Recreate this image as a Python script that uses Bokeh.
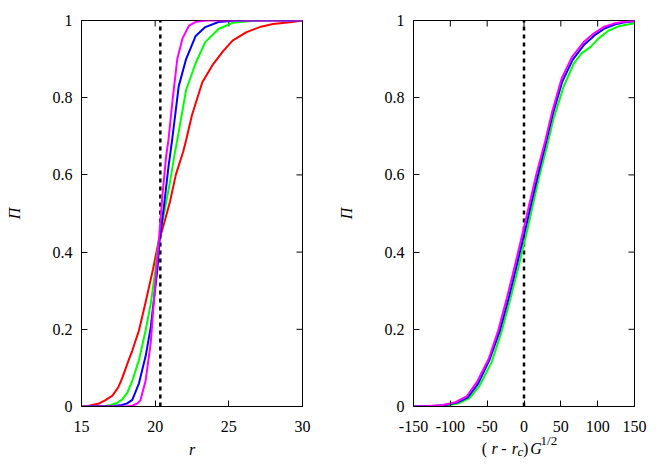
import math
from bokeh.plotting import figure
from bokeh.layouts import row, column
from bokeh.models import FixedTicker, Range1d, Label
from bokeh.embed import file_html
from bokeh.resources import INLINE

FONT = "Liberation Serif"

# ---------------- data: left panel (Pi vs r) ----------------
r_red = [15, 15.5, 16.2, 16.6, 17.1, 17.5, 17.75, 18.2, 18.45, 18.9, 19.35, 19.85, 20.25, 20.5,
         21.0, 21.4, 21.9, 22.1, 22.5, 23.2, 23.9, 24.6, 25.25, 26.2, 27.1, 28.0, 29.3, 30]
p_red = [0, 0.002, 0.008, 0.016, 0.028, 0.05, 0.072, 0.12, 0.145, 0.197, 0.27, 0.355, 0.43, 0.46,
         0.53, 0.60, 0.66, 0.69, 0.755, 0.84, 0.885, 0.92, 0.948, 0.97, 0.983, 0.991, 0.996, 1.0]

r_green = [15, 16.5, 17.0, 17.4, 17.75, 18.1, 18.45, 18.9, 19.35, 19.7, 20.0, 20.25, 20.6, 21.0,
           21.3, 21.5, 22.1, 22.75, 23.4, 24.3, 25.25, 26.5, 28, 30]
p_green = [0, 0.001, 0.004, 0.009, 0.018, 0.035, 0.067, 0.12, 0.197, 0.266, 0.35, 0.43, 0.5, 0.58,
           0.65, 0.69, 0.82, 0.89, 0.944, 0.978, 0.994, 0.999, 1, 1]

r_blue = [15, 17.2, 17.75, 18.1, 18.45, 18.9, 19.35, 19.7, 20.15, 20.3, 20.6, 20.9, 21.15, 21.6,
          22.1, 22.75, 23.4, 24.3, 25.5, 30]
p_blue = [0, 0.001, 0.004, 0.008, 0.017, 0.06, 0.13, 0.205, 0.355, 0.43, 0.52, 0.62, 0.69, 0.83,
          0.90, 0.96, 0.983, 0.996, 1, 1]

r_mag = [15, 18.0, 18.45, 18.8, 19.0, 19.35, 19.7, 19.9, 20.07, 20.25, 20.5, 20.75, 20.9, 21.2,
         21.5, 21.85, 22.3, 22.8, 23.5, 30]
p_mag = [0, 0.0, 0.002, 0.008, 0.016, 0.067, 0.165, 0.266, 0.35, 0.43, 0.55, 0.65, 0.69, 0.80,
         0.90, 0.953, 0.987, 0.997, 1.0, 1.0]

r_c = 20.35
x_ticks_left = [15, 20, 25, 30]

# ---------------- data: right panel (Pi vs scaled r) ----------------
s_green = [-150, -120, -100, -88, -74, -60, -44, -31, -19, -9, 3, 20, 31, 40, 54, 67.4, 78, 90,
           102, 115, 130, 150]
q_green = [0, 0.001, 0.004, 0.009, 0.022, 0.055, 0.115, 0.19, 0.275, 0.35, 0.445, 0.59, 0.672,
           0.745, 0.83, 0.888, 0.915, 0.931, 0.955, 0.974, 0.986, 0.993]

s_blue = [-150, -125, -108, -91, -76, -62, -47, -33, -21, -11, 1, 10, 19, 30, 39, 52, 66, 82, 96,
          110, 124, 135, 150]
q_blue = [0, 0.001, 0.003, 0.01, 0.024, 0.06, 0.12, 0.195, 0.28, 0.357, 0.452, 0.527, 0.6, 0.685,
          0.757, 0.842, 0.898, 0.938, 0.962, 0.98, 0.99, 0.995, 0.998]

s_mag = [-150, -130, -112, -93, -78, -64, -48, -35, -23, -13, -1, 8, 17, 29, 38, 51, 65, 81, 95,
         108, 122, 133, 150]
q_mag = [0, 0.001, 0.003, 0.011, 0.026, 0.063, 0.123, 0.197, 0.283, 0.36, 0.456, 0.53, 0.603,
         0.689, 0.762, 0.849, 0.905, 0.944, 0.967, 0.983, 0.992, 0.996, 0.999]

x_ticks_right = [-150, -100, -50, 0, 50, 100, 150]
x_tick_labels_right = ["-150", "-100", "-50", "0", "50", "100", "150"]
y_ticks = [0, 0.2, 0.4, 0.6, 0.8, 1.0]
y_tick_labels = ["0", "0.2", "0.4", "0.6", "0.8", "1"]

RED, GREEN, BLUE, MAG = "#ff0000", "#00ff00", "#0000ff", "#ff00ff"


def make_fig(xr, xticks, border_left, border_right, border_bottom):
    p = figure(frame_width=221, frame_height=386, x_range=Range1d(*xr), y_range=Range1d(0, 1),
               output_backend="svg", toolbar_location=None,
               min_border_left=border_left, min_border_right=border_right,
               min_border_top=20, min_border_bottom=border_bottom)
    p.xgrid.visible = False
    p.ygrid.visible = False
    p.outline_line_color = "black"
    p.outline_line_width = 1
    p.background_fill_color = "white"
    p.border_fill_color = "white"
    p.xaxis.ticker = FixedTicker(ticks=xticks)
    p.yaxis.ticker = FixedTicker(ticks=y_ticks)
    p.yaxis.major_label_overrides = {t: s for t, s in zip(y_ticks, y_tick_labels)}
    for ax in list(p.xaxis) + list(p.yaxis):
        ax.major_tick_in = 6
        ax.major_tick_out = 0
        ax.minor_tick_in = 0
        ax.minor_tick_out = 0
        ax.major_label_text_font = FONT
        ax.major_label_text_font_size = "16px"
        ax.major_label_text_color = "black"
        ax.axis_label_text_font = FONT
        ax.axis_label_text_font_size = "16px"
        ax.axis_label_text_font_style = "italic"
        ax.axis_label_text_color = "black"
        ax.axis_line_color = "black"
        ax.major_tick_line_color = "black"
    p.xaxis.major_label_standoff = 14
    p.yaxis.major_label_standoff = 9
    p.yaxis.axis_label = "Π"
    p.yaxis.axis_label_standoff = 27
    # mirrored inward ticks on the top and right edges (clipped half-dashes)
    xr0, xr1 = xr
    p.scatter(xticks, [1.0] * len(xticks), marker="dash", size=12, angle=math.pi / 2,
              line_color="black", line_width=1)
    p.scatter([xr1] * len(y_ticks), y_ticks, marker="dash", size=12,
              line_color="black", line_width=1)
    return p


# ---------------- left panel ----------------
p1 = make_fig((15, 30), x_ticks_left, 81, 30, 50)
p1.xaxis.axis_label = "r"
p1.xaxis.axis_label_standoff = 6
p1.line([r_c, r_c], [0, 1], line_color="black", line_width=2.5, line_dash="4 4")
p1.line(r_red, p_red, line_color=RED, line_width=2)
p1.line(r_green, p_green, line_color=GREEN, line_width=2)
p1.line(r_blue, p_blue, line_color=BLUE, line_width=2)
p1.line(r_mag, p_mag, line_color=MAG, line_width=2)

# ---------------- right panel ----------------
p2 = make_fig((-150, 150), x_ticks_right, 81, 22, 52)
p2.xaxis.major_label_overrides = {t: s for t, s in zip(x_ticks_right, x_tick_labels_right)}
p2.line([0, 0], [0, 1], line_color="black", line_width=2.5, line_dash="4 4")
p2.line(s_green, q_green, line_color=GREEN, line_width=2)
p2.line(s_blue, q_blue, line_color=BLUE, line_width=2)
p2.line(s_mag, q_mag, line_color=MAG, line_width=2)

# strip under the right panel carrying the x-axis label "( r -  r_c) G^{1/2}"
p3 = figure(frame_width=221, frame_height=40, x_range=p2.x_range, y_range=Range1d(0, 1),
            x_axis_type=None, y_axis_type=None, output_backend="svg", toolbar_location=None,
            min_border_left=81, min_border_right=22, min_border_top=0, min_border_bottom=0,
            margin=(-36, 0, 0, 0))
p3.outline_line_color = None
p3.background_fill_color = None
p3.border_fill_color = None

pieces = [
    ("(", -57.5, 0.35, "16px", "normal"),
    ("r", -44.0, 0.35, "16px", "italic"),
    ("-", -31.0, 0.35, "16px", "normal"),
    ("r", -16.5, 0.35, "16px", "italic"),
    ("c", -8.7, 0.275, "13px", "italic"),
    (")", -1.5, 0.35, "16px", "normal"),
    ("G", 8.5, 0.35, "16px", "italic"),
    ("1/2", 22.5, 0.5625, "13px", "normal"),
]
for txt, xx, yy, fs, st in pieces:
    p3.add_layout(Label(x=xx, y=yy, x_units="data", y_units="data", text=txt,
                        text_font=FONT, text_font_size=fs, text_font_style=st,
                        text_align="left", text_baseline="alphabetic", text_color="black"))

layout = row(p1, column(p2, p3))
open("out.html", "w").write(file_html(layout, INLINE))
